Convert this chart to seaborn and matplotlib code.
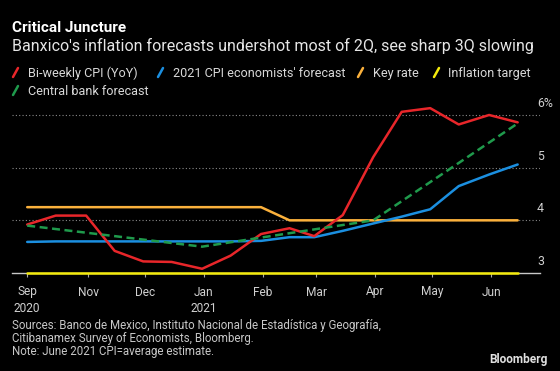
import numpy as np
import pandas as pd
import seaborn as sns
import matplotlib.pyplot as plt
from matplotlib.lines import Line2D
from matplotlib.transforms import blended_transform_factory

# bi-weekly observation dates
dates = ['2020-09-30', '2020-10-15', '2020-10-31', '2020-11-15', '2020-11-30',
         '2020-12-15', '2020-12-31', '2021-01-15', '2021-01-31', '2021-02-15',
         '2021-02-28', '2021-03-15', '2021-03-31', '2021-04-15', '2021-04-30',
         '2021-05-15', '2021-05-31', '2021-06-15']

cpi_yoy = [3.92, 4.09, 4.09, 3.42, 3.22, 3.21, 3.08, 3.33, 3.74,
           3.85, 3.70, 4.10, 5.20, 6.06, 6.13, 5.82, 6.00, 5.86]
economists = [3.59, 3.60, 3.60, 3.60, 3.60, 3.60, 3.60, 3.60, 3.61,
              3.68, 3.68, 3.80, 3.94, 4.07, 4.21, 4.65, 4.87, 5.06]
key_rate = [4.25, 4.25, 4.25, 4.25, 4.25, 4.25, 4.25, 4.25, 4.25,
            4.00, 4.00, 4.00, 4.00, 4.00, 4.00, 4.00, 4.00, 4.00]
target = [3.0, 3.0, 3.0, 3.0, 3.0, 3.0, 3.0, 3.0, 3.0,
          3.0, 3.0, 3.0, 3.0, 3.0, 3.0, 3.0, 3.0, 3.0]

# central bank (quarterly) forecast path
cb_dates = ['2020-09-30', '2020-12-31', '2021-03-31', '2021-06-15']
cb_forecast = [3.90, 3.50, 4.00, 5.84]

tick_dates = ['2020-09-30', '2020-11-01', '2020-12-01', '2021-01-01', '2021-02-01',
              '2021-03-01', '2021-04-01', '2021-05-01', '2021-06-01']
tick_labels = ['Sep\n2020', 'Nov', 'Dec', 'Jan\n2021', 'Feb', 'Mar', 'Apr', 'May', 'Jun']
y_ticks = [3, 4, 5, 6]
y_labels = ['3', '4', '5', '6%']

names = ['Bi-weekly CPI (YoY)', "2021 CPI economists' forecast", 'Key rate',
         'Inflation target', 'Central bank forecast']
colors = {names[0]: '#e8262a', names[1]: '#1b8fe0', names[2]: '#fbb13c',
          names[3]: '#f4ea0c', names[4]: '#1f9a4c'}

footer = ['Sources: Banco de Mexico, Instituto Nacional de Estadística y Geografía,',
          'Citibanamex Survey of Economists, Bloomberg.',
          'Note: June 2021 CPI=average estimate.']

df = pd.concat([
    pd.DataFrame({'date': pd.to_datetime(dates), 'value': target, 'series': names[3]}),
    pd.DataFrame({'date': pd.to_datetime(dates), 'value': key_rate, 'series': names[2]}),
    pd.DataFrame({'date': pd.to_datetime(dates), 'value': economists, 'series': names[1]}),
    pd.DataFrame({'date': pd.to_datetime(dates), 'value': cpi_yoy, 'series': names[0]}),
    pd.DataFrame({'date': pd.to_datetime(cb_dates), 'value': cb_forecast, 'series': names[4]}),
], ignore_index=True)

sns.set_style('dark', rc={'axes.facecolor': 'black', 'figure.facecolor': 'black'})
plt.rcParams['font.family'] = ['Roboto', 'DejaVu Sans']

W, H = 560, 371
fx = lambda px: px / W
fy = lambda py: 1 - py / H

fig = plt.figure(figsize=(W / 100, H / 100), dpi=100)
ax = fig.add_axes([fx(12), fy(273), fx(528), 175 / H])

order = [names[3], names[2], names[1], names[0], names[4]]
dashes = {n: '' for n in order}
dashes[names[4]] = (3.2, 1.8)
sns.lineplot(data=df, x='date', y='value', hue='series', style='series',
             hue_order=order, style_order=order, palette=colors, dashes=dashes,
             linewidth=1.8, legend=False, ax=ax)
for ln in ax.lines:
    ln.set_clip_on(False)
    ln.set_zorder(3)

ax.set_xlim(pd.Timestamp('2020-09-22'), pd.Timestamp('2021-06-26 18:00'))
ax.set_ylim(3, 3 + 175 / 52.67)
ax.set_xlabel('')
ax.set_ylabel('')

# grid + y labels sitting above their lines on the right
ax.set_yticks([4, 5, 6])
ax.set_yticklabels([])
ax.tick_params(axis='y', length=0)
ax.yaxis.grid(True, color='#8a8a8a', linestyle=(0, (1, 2)), linewidth=0.8)
trans = blended_transform_factory(ax.transAxes, ax.transData)
for v, lab in zip(y_ticks, y_labels):
    ax.text(0.9943, v + 0.22, lab, transform=trans, ha='left', va='center',
            color='#d0d0d0', fontsize=8.8)

ax.set_xticks(pd.to_datetime(tick_dates))
ax.set_xticklabels(tick_labels, color='#d0d0d0', fontsize=8.6, linespacing=1.35)
ax.tick_params(axis='x', length=3, width=0.8, color='#aaaaaa', pad=6, bottom=True)
for s in ['top', 'left', 'right']:
    ax.spines[s].set_visible(False)
ax.spines['bottom'].set_color('#c8c8c8')
ax.spines['bottom'].set_linewidth(1.0)

# titles
fig.text(fx(12), fy(32), 'Critical Juncture', color='white', fontsize=11,
         fontweight='bold', va='baseline')
fig.text(fx(12), fy(51), "Banxico's inflation forecasts undershot most of 2Q, see sharp 3Q slowing",
         color='#e6e6e6', fontsize=11.5, va='baseline')

# legend: slanted colour strokes + labels
legend_items = [(names[0], 12, 28, 77), (names[1], 157, 173, 77), (names[2], 357, 373, 77),
                (names[3], 433, 448, 77), (names[4], 12, 28, 95)]
for name, sx, tx, base in legend_items:
    fig.add_artist(Line2D([fx(sx + 1), fx(sx + 6)], [fy(base), fy(base - 9)],
                          color=colors[name], linewidth=1.8, transform=fig.transFigure))
    fig.text(fx(tx), fy(base), name, color='#d8d8d8', fontsize=9.1, va='baseline')

# footer (one block, last line's baseline anchored)
fig.text(fx(12), fy(355), '\n'.join(footer), color='#c8c8c8', fontsize=8.3,
         va='baseline', linespacing=0.98)
fig.text(fx(548), fy(363), 'Bloomberg', color='#e0e0e0', fontsize=8.6, fontweight='bold',
         ha='right', va='baseline')

fig.savefig('out.png', dpi=100, facecolor='black')
